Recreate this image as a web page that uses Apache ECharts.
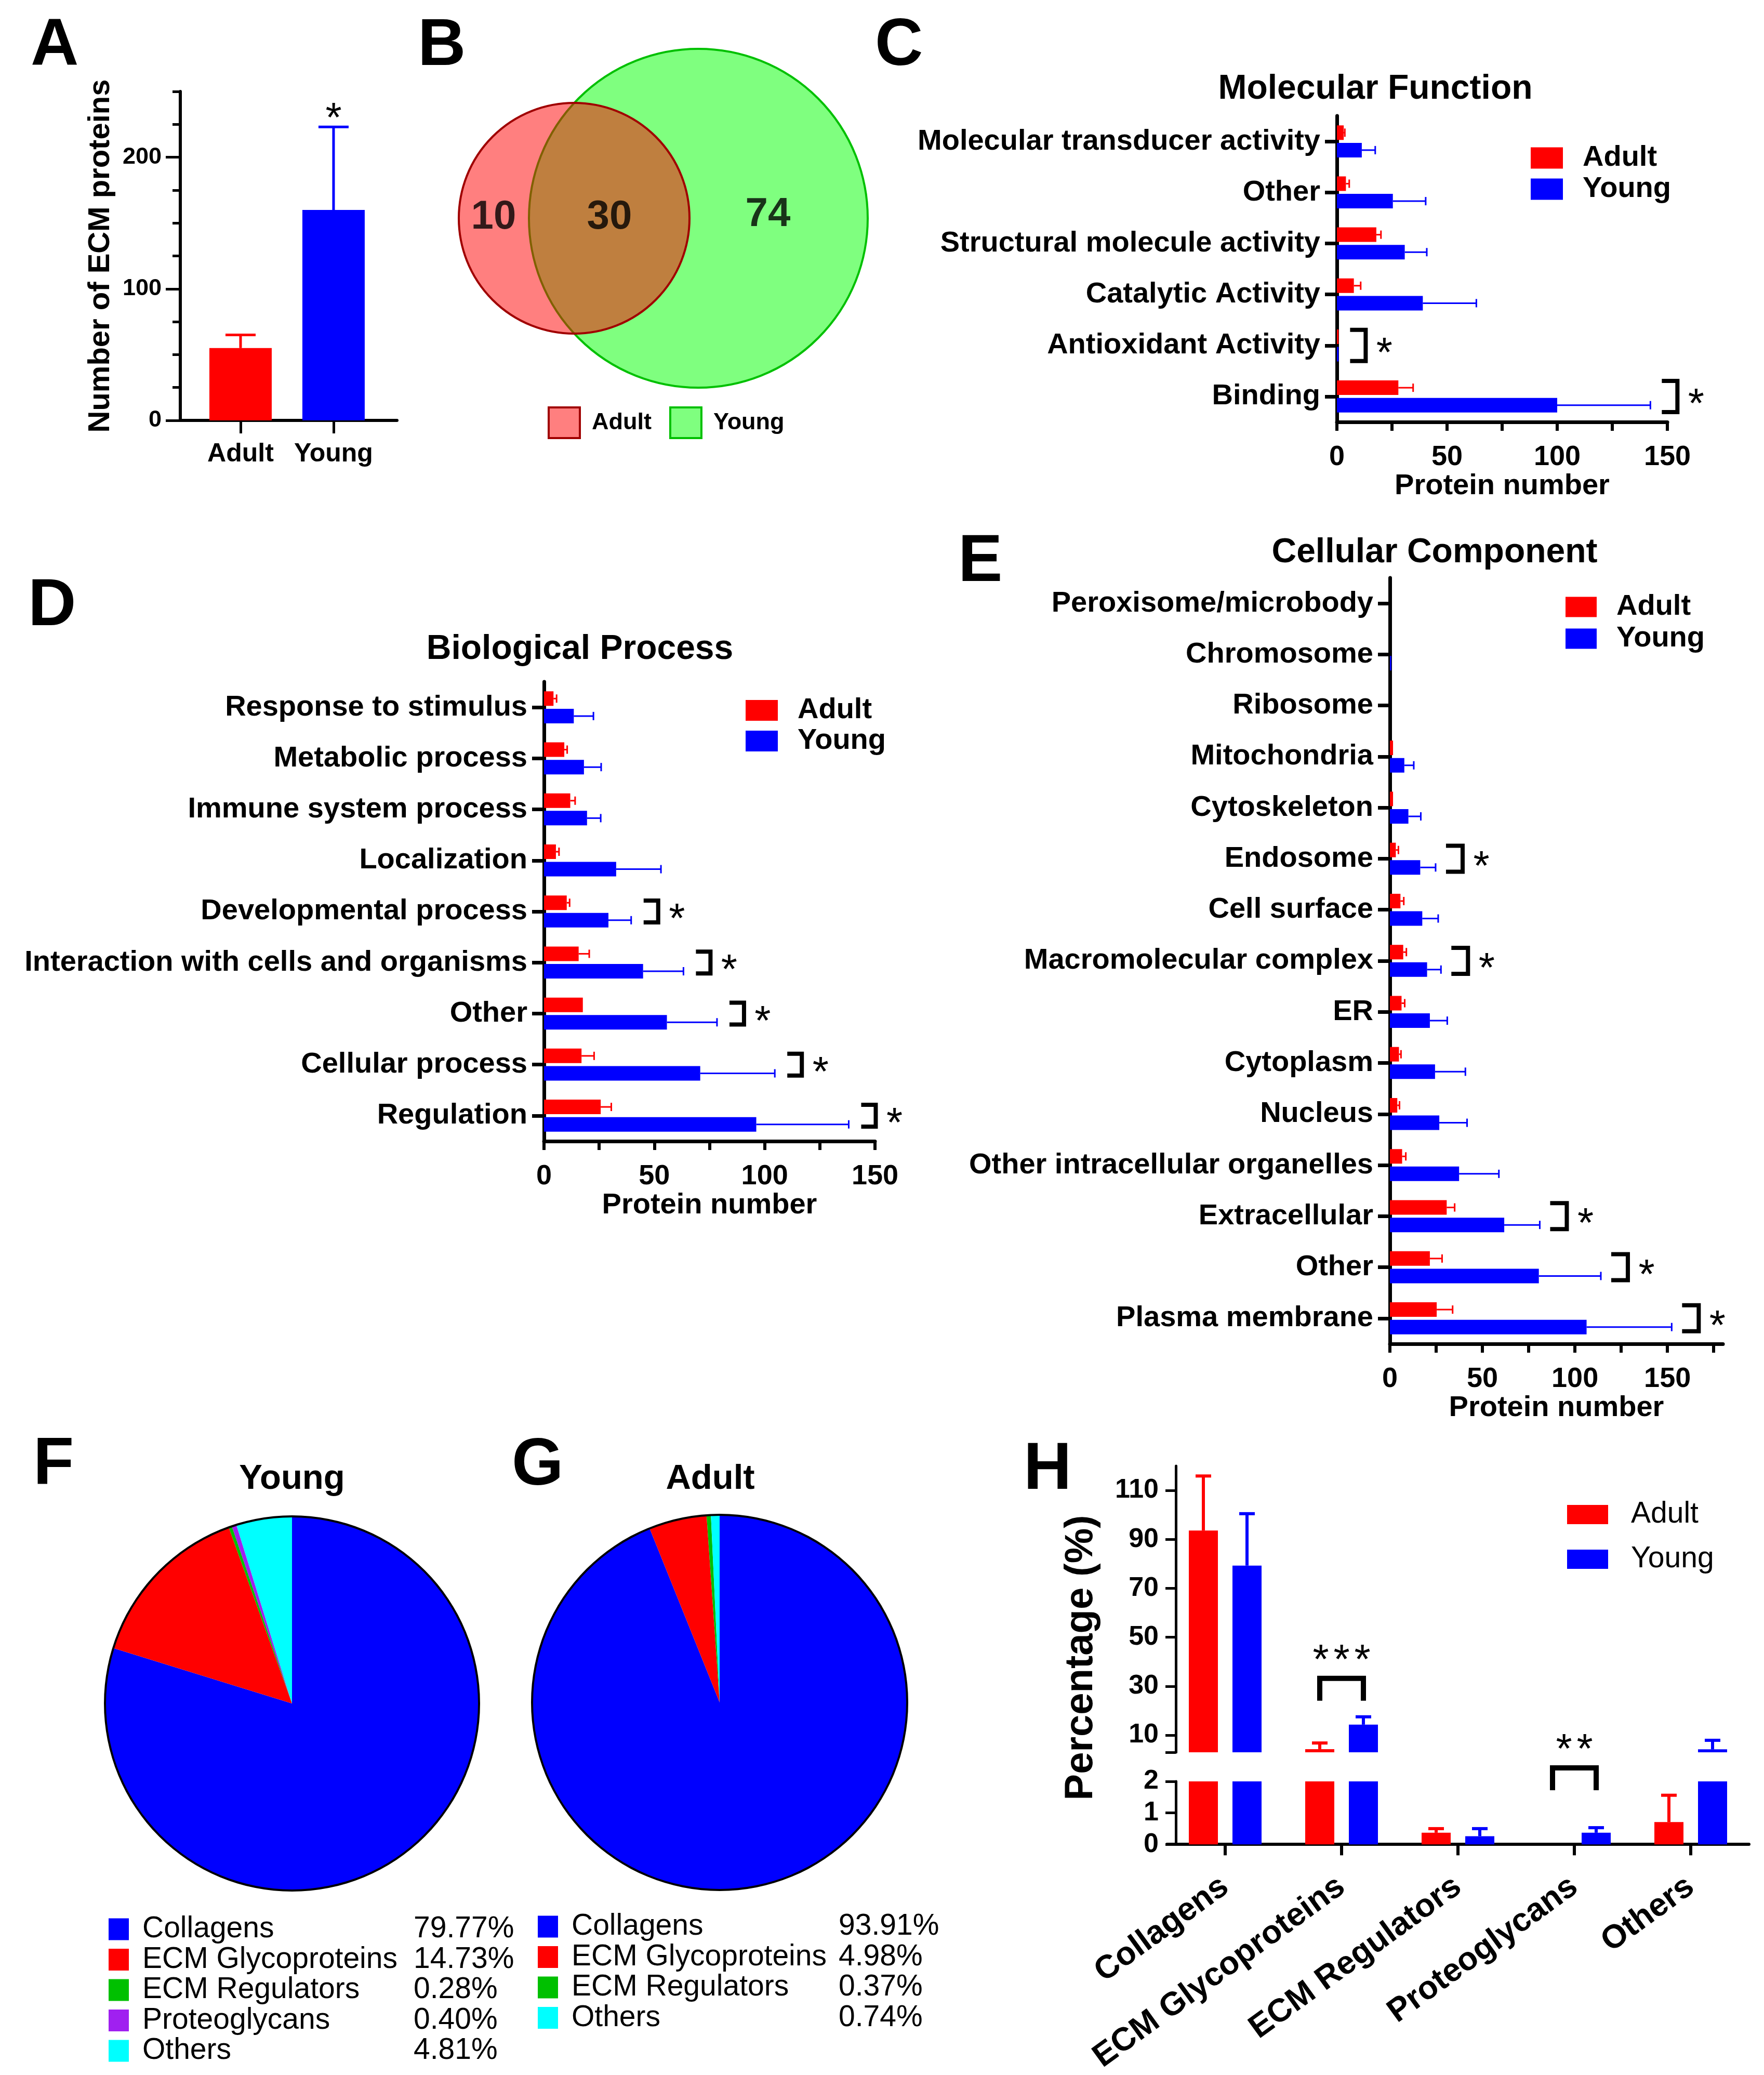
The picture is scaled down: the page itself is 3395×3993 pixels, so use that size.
<!DOCTYPE html>
<html>
<head>
<meta charset="utf-8">
<script src="https://cdn.jsdelivr.net/npm/echarts@6/dist/echarts.min.js"></script>
<style>html,body{margin:0;padding:0;background:#fff;overflow:hidden}#c{width:3395px;height:3993px}</style>
</head>
<body>
<div id="c"></div>
<script>
// ---------------- DATA ----------------
const groups = ['Adult', 'Young'];

// A: number of ECM proteins
const ecmTotal = [55, 160];
const ecmTotalSD = [10, 63];
const ecmTotalSig = ['', '*'];

// B: Venn counts (Adult only, shared, Young only)
const vennCounts = [10, 30, 74];

// C: Molecular Function
const mfCats = ['Molecular transducer activity', 'Other', 'Structural molecule activity', 'Catalytic Activity', 'Antioxidant Activity', 'Binding'];
const mfAdult = [3.1, 4.1, 17.9, 7.7, 0.8, 27.9];
const mfAdultSD = [0.5, 1.5, 2.1, 3.1, 0, 6.7];
const mfYoung = [11.3, 25.4, 30.8, 39, 0.8, 100];
const mfYoungSD = [6.1, 14.9, 10, 24.3, 0, 42.3];
const mfSig = ['', '', '', '', '*', '*'];

// D: Biological Process
const bpCats = ['Response to stimulus', 'Metabolic process', 'Immune system process', 'Localization', 'Developmental process', 'Interaction with cells and organisms', 'Other', 'Cellular process', 'Regulation'];
const bpAdult = [4.3, 9.2, 11.9, 5.4, 10.3, 15.7, 17.6, 17, 25.7];
const bpAdultSD = [1.4, 1.3, 2.2, 1.4, 1.3, 4.8, 0, 5.7, 4.8];
const bpYoung = [13.5, 18.1, 19.5, 32.7, 29.2, 44.9, 55.7, 70.8, 96.2];
const bpYoungSD = [8.9, 7.8, 6.2, 20.3, 10.3, 18.3, 22.7, 33.8, 41.9];
const bpSig = ['', '', '', '', '*', '*', '*', '*', '*'];

// E: Cellular Component
const ccCats = ['Peroxisome/microbody', 'Chromosome', 'Ribosome', 'Mitochondria', 'Cytoskeleton', 'Endosome', 'Cell surface', 'Macromolecular complex', 'ER', 'Cytoplasm', 'Nucleus', 'Other intracellular organelles', 'Extracellular', 'Other', 'Plasma membrane'];
const ccAdult = [0, 0, 0, 1.7, 1.7, 3.2, 5.7, 7.2, 6.3, 4.9, 4, 6.6, 30.7, 21.6, 25.3];
const ccAdultSD = [0, 0, 0, 0, 0, 1.4, 1.8, 1.7, 1.7, 1.1, 1.2, 2, 4.3, 6.6, 8.6];
const ccYoung = [0, 0.8, 0, 7.8, 10, 16.4, 17.5, 20.1, 21.6, 24.4, 26.7, 37.4, 61.8, 80.5, 106.3];
const ccYoungSD = [0, 0, 0, 5.1, 6.7, 8.3, 8.6, 7.5, 9.4, 16.4, 15, 21.5, 19.2, 33.5, 46];
const ccSig = ['', '', '', '', '', '*', '', '*', '', '', '', '', '*', '*', '*'];

// F / G: ECM class composition (%)
const ecmClasses = ['Collagens', 'ECM Glycoproteins', 'ECM Regulators', 'Proteoglycans', 'Others'];
const youngPct = [79.77, 14.73, 0.28, 0.40, 4.81];
const adultClasses = ['Collagens', 'ECM Glycoproteins', 'ECM Regulators', 'Others'];
const adultPct = [93.91, 4.98, 0.37, 0.74];

// H: percentage by class (mean, SD)
const pctAdult = [93.6, 4.3, 0.37, 0, 0.71];
const pctAdultSD = [22.3, 2.5, 0.13, 0, 0.85];
const pctYoung = [79.3, 14.3, 0.26, 0.37, 4.2];
const pctYoungSD = [21.2, 3.2, 0.24, 0.16, 3.7];
const pctSig = ['', '***', '', '**', ''];

// tick label values
const ticksA = [0, 100, 200];
const ticks150 = [0, 25, 50, 75, 100, 125, 150];
const ticks175 = [0, 25, 50, 75, 100, 125, 150, 175];
const labels150 = [0, 50, 100, 150];
const ticksHUpper = [10, 30, 50, 70, 90, 110];
const ticksHLower = [0, 1, 2];

// ---------------- STYLE ----------------
const FONT = '"Liberation Sans", Arial, Helvetica, sans-serif';
const RED = '#ff0000', BLUE = '#0000ff', BLACK = '#000000';
const pieColors = {'Collagens': '#0000ff', 'ECM Glycoproteins': '#ff0000', 'ECM Regulators': '#00c000', 'Proteoglycans': '#a020f0', 'Others': '#00ffff'};
const T = (size, weight) => ({fontFamily: FONT, fontSize: size, fontWeight: weight || 'bold', color: BLACK});
const STAR_FONT = 'normal 80px ' + FONT;
const STAR_DY = 18;

function starTexts(n, cx, cy, pitch) {
  const out = [];
  for (let k = 0; k < n; k++) {
    out.push({type: 'text', x: cx + (k - (n - 1) / 2) * pitch, y: cy + STAR_DY,
      style: {text: '*', font: STAR_FONT, fill: BLACK, align: 'center', verticalAlign: 'middle'}});
  }
  return out;
}

// horizontal bar helpers (C, D, E)
const HBW = 28, HOFF = 16.8;
function catYAxis(grid, cats) {
  return {gridIndex: grid, type: 'category', data: cats, inverse: true,
    axisLine: {show: true, onZero: false, lineStyle: {color: BLACK, width: 7}},
    axisTick: {show: true, alignWithLabel: true, length: 23, lineStyle: {color: BLACK, width: 7}},
    axisLabel: Object.assign({margin: 32, interval: 0}, T(56)),
    splitLine: {show: false}};
}
function protXAxis(grid, max, ticks) {
  return {gridIndex: grid, type: 'value', min: 0, max: max,
    axisLine: {show: true, onZero: false, lineStyle: {color: BLACK, width: 7}},
    axisTick: {show: true, customValues: ticks, length: 17, lineStyle: {color: BLACK, width: 6}},
    axisLabel: Object.assign({customValues: labels150, margin: 41}, T(54)),
    splitLine: {show: false},
    name: 'Protein number', nameLocation: 'middle', nameGap: 90, nameTextStyle: T(56)};
}
function hBars(ai, adult, young) {
  return [
    {type: 'bar', name: 'Adult', xAxisIndex: ai, yAxisIndex: ai, data: adult, barWidth: HBW, barGap: '20%', itemStyle: {color: RED}, silent: true},
    {type: 'bar', name: 'Young', xAxisIndex: ai, yAxisIndex: ai, data: young, barWidth: HBW, barGap: '20%', itemStyle: {color: BLUE}, silent: true}
  ];
}
function hErr(ai, vals, sds, color, off) {
  return {type: 'custom', xAxisIndex: ai, yAxisIndex: ai, silent: true, z: 5,
    data: vals.map((v, i) => [i, v, v + sds[i]]),
    encode: {y: 0, x: [1, 2]},
    renderItem: function (params, api) {
      const cat = api.value(0), v = api.value(1), e = api.value(2);
      if (!(e > v)) return null;
      const p0 = api.coord([v, cat]), p1 = api.coord([e, cat]);
      const y = p0[1] + off;
      return {type: 'group', children: [
        {type: 'line', shape: {x1: p0[0], y1: y, x2: p1[0], y2: y}, style: {stroke: color, lineWidth: 3}},
        {type: 'line', shape: {x1: p1[0], y1: y - 8, x2: p1[0], y2: y + 8}, style: {stroke: color, lineWidth: 3}}
      ]};
    }};
}
function hSig(ai, young, sds, sig, halfH, arm) {
  const data = [];
  sig.forEach((s, i) => { if (s) data.push([i, young[i] + sds[i], s.length]); });
  return {type: 'custom', xAxisIndex: ai, yAxisIndex: ai, silent: true, z: 5,
    data: data, encode: {y: 0, x: 1},
    renderItem: function (params, api) {
      const p = api.coord([api.value(1), api.value(0)]);
      const x = p[0] + 52, y = p[1];
      return {type: 'group', children: [
        {type: 'polyline', shape: {points: [[x - arm, y - halfH], [x, y - halfH], [x, y + halfH], [x - arm, y + halfH]]},
          style: {stroke: BLACK, lineWidth: 8, fill: null, lineJoin: 'miter'}}
      ].concat(starTexts(api.value(2), x + 36, y, 40))};
    }};
}

// vertical error bars in H (clamped to grid)
const VBW = 56, VOFF = 42;
function vErr(xi, yi, vals, sds, color, off, keep) {
  const data = [];
  vals.forEach((v, i) => { if (sds[i] > 0 && keep(v + sds[i])) data.push([i, v, v + sds[i]]); });
  return {type: 'custom', xAxisIndex: xi, yAxisIndex: yi, silent: true, z: 5,
    data: data, encode: {x: 0, y: [1, 2]},
    renderItem: function (params, api) {
      const cs = params.coordSys;
      const cat = api.value(0);
      const p0 = api.coord([cat, api.value(1)]), p1 = api.coord([cat, api.value(2)]);
      const x = p0[0] + off;
      const y0 = Math.min(p0[1], cs.y + cs.height);
      return {type: 'group', children: [
        {type: 'line', shape: {x1: x, y1: y0, x2: x, y2: p1[1]}, style: {stroke: color, lineWidth: 6}},
        {type: 'line', shape: {x1: x - 15, y1: p1[1], x2: x + 15, y2: p1[1]}, style: {stroke: color, lineWidth: 6}}
      ]};
    }};
}
const hBracketLift = {1: 74, 3: 115};
function vSig(xi, yi, which) {
  const data = [];
  pctSig.forEach((s, i) => { if (s && which(i)) data.push([i, pctYoung[i] + pctYoungSD[i], s.length]); });
  return {type: 'custom', xAxisIndex: xi, yAxisIndex: yi, silent: true, z: 5,
    data: data, encode: {x: 0, y: 1},
    renderItem: function (params, api) {
      const cat = api.value(0);
      const p = api.coord([cat, api.value(1)]);
      const cx = p[0], top = p[1] - hBracketLift[cat];
      return {type: 'group', children: [
        {type: 'polyline', shape: {points: [[cx - VOFF, top + 43], [cx - VOFF, top], [cx + VOFF, top], [cx + VOFF, top + 43]]},
          style: {stroke: BLACK, lineWidth: 10, fill: null, lineJoin: 'miter'}}
      ].concat(starTexts(api.value(2), cx, top - 50, 40))};
    }};
}

function barLegend(left, top, iw, ih, gap, textGap, size, weight) {
  return {orient: 'vertical', left: left, top: top, padding: 0, itemWidth: iw, itemHeight: ih, itemGap: gap,
    icon: 'rect', selectedMode: false, data: groups,
    formatter: n => '{g| }{t|' + n + '}',
    textStyle: {rich: {g: {width: textGap}, t: {fontFamily: FONT, fontSize: size, fontWeight: weight, color: BLACK}}}};
}
function pieLegend(left, top, names, pcts, nameW) {
  return {orient: 'vertical', left: left, top: top, padding: 0, itemWidth: 39, itemHeight: 42, itemGap: 1.5,
    icon: 'rect', selectedMode: false, data: names,
    formatter: n => '{g| }{n|' + n + '}{p|' + pcts[names.indexOf(n)].toFixed(2) + '%}',
    textStyle: {rich: {
      g: {width: 21},
      n: {width: nameW, fontFamily: FONT, fontSize: 57, fontWeight: 'normal', color: BLACK},
      p: {fontFamily: FONT, fontSize: 57, fontWeight: 'normal', color: BLACK}}}};
}

function label(text, x, y, size, align) {
  return {type: 'text', x: x, y: y, style: {text: text, font: 'bold ' + size + 'px ' + FONT, fill: BLACK, align: align || 'left', verticalAlign: 'middle'}};
}

const option = {
  animation: false,
  backgroundColor: '#ffffff',
  textStyle: {fontFamily: FONT},
  grid: [
    {left: 347, top: 176, width: 417, height: 633},   // 0 A
    {left: 2573, top: 223, width: 636, height: 589},  // 1 C
    {left: 1047, top: 1312, width: 637, height: 884}, // 2 D
    {left: 2675, top: 1112, width: 641, height: 1474},// 3 E
    {left: 2246, top: 2821, width: 1120, height: 551},// 4 H upper
    {left: 2246, top: 3428, width: 1120, height: 136},// 5 H lower
    {left: 880, top: 90, width: 800, height: 660}     // 6 Venn
  ],
  xAxis: [
    {gridIndex: 0, type: 'value', min: -0.648, max: 1.682,
      axisLine: {show: true, onZero: false, lineStyle: {color: BLACK, width: 6}},
      axisTick: {show: true, customValues: [0, 1], length: 25, lineStyle: {color: BLACK, width: 5}},
      axisLabel: Object.assign({customValues: [0, 1], margin: 40, formatter: v => groups[Math.round(v)]}, T(50)),
      splitLine: {show: false}},
    protXAxis(1, 150, ticks150),
    protXAxis(2, 150, ticks150),
    protXAxis(3, 180, ticks175),
    {gridIndex: 4, type: 'category', data: ecmClasses, show: false},
    {gridIndex: 5, type: 'category', data: ecmClasses,
      axisLine: {show: true, onZero: false, lineStyle: {color: BLACK, width: 6}},
      axisTick: {show: true, alignWithLabel: true, length: 21, lineStyle: {color: BLACK, width: 6}},
      axisLabel: Object.assign({interval: 0, rotate: 36, margin: 75}, T(63)),
      splitLine: {show: false}},
    {gridIndex: 6, type: 'value', min: 0, max: 800, show: false}
  ],
  yAxis: [
    {gridIndex: 0, type: 'value', min: 0, max: 250, interval: 25, position: 'left',
      axisLine: {show: true, onZero: false, lineStyle: {color: BLACK, width: 6}},
      axisTick: {show: true, length: 15, lineStyle: {color: BLACK, width: 5}},
      axisLabel: Object.assign({margin: 36, formatter: v => (ticksA.indexOf(v) >= 0 ? String(v) : '')}, T(45)),
      splitLine: {show: false},
      name: 'Number of ECM proteins', nameLocation: 'middle', nameGap: 124, nameRotate: 90, nameTextStyle: T(58)},
    catYAxis(1, mfCats),
    catYAxis(2, bpCats),
    catYAxis(3, ccCats),
    {gridIndex: 4, type: 'value', min: 3, max: 120, offset: -17, position: 'left',
      axisLine: {show: true, onZero: false, lineStyle: {color: BLACK, width: 5}},
      axisTick: {show: true, customValues: [3].concat(ticksHUpper), length: 20, lineStyle: {color: BLACK, width: 5}},
      axisLabel: Object.assign({customValues: ticksHUpper, margin: 33}, T(52)),
      splitLine: {show: false}},
    {gridIndex: 5, type: 'value', min: 0, max: 2, offset: -17, position: 'left',
      axisLine: {show: true, onZero: false, lineStyle: {color: BLACK, width: 5}},
      axisTick: {show: true, customValues: ticksHLower, length: 20, lineStyle: {color: BLACK, width: 5}},
      axisLabel: Object.assign({customValues: ticksHLower, margin: 33}, T(52)),
      splitLine: {show: false}},
    {gridIndex: 6, type: 'value', min: 0, max: 660, inverse: true, show: false},
    {gridIndex: 0, type: 'value', min: 0, max: 250, position: 'left',
      axisLine: {show: false, onZero: false},
      axisTick: {show: true, customValues: ticksA, length: 28, lineStyle: {color: BLACK, width: 5}},
      axisLabel: {show: false}, splitLine: {show: false}}
  ],
  legend: [
    {orient: 'horizontal', left: 1054, top: 782, padding: 0, itemWidth: 60, itemHeight: 59, itemGap: 34, icon: 'rect', selectedMode: false,
      data: ['vAdult', 'vYoung'], itemStyle: {borderWidth: 4},
      formatter: n => '{g| }{t|' + n.slice(1) + '}',
      textStyle: {rich: {g: {width: 18}, t: {fontFamily: FONT, fontSize: 45, fontWeight: 'bold', color: BLACK}}}},
    barLegend(2946, 276, 62, 41, 4, 33, 56, 'bold'),
    barLegend(1435, 1339, 62, 40, 3, 33, 56, 'bold'),
    barLegend(3013, 1140, 60, 39, 5, 33, 56, 'bold'),
    barLegend(3016, 2886, 79, 37, 29, 39, 57, 'normal'),
    pieLegend(209, 3684, ecmClasses, youngPct, 522),
    pieLegend(1035, 3679, adultClasses, adultPct, 514)
  ],
  graphic: [
    label('A', 59, 90, 128), label('B', 804, 90, 128), label('C', 1684, 90, 128),
    label('D', 54, 1168, 128), label('E', 1844, 1083, 128), label('F', 64, 2820, 128),
    label('G', 985, 2822, 128), label('H', 1970, 2830, 128),
    label('Molecular Function', 2647, 172, 66, 'center'),
    label('Biological Process', 1116, 1250, 66, 'center'),
    label('Cellular Component', 2761, 1064, 66, 'center'),
    label('Young', 562, 2847, 67, 'center'),
    label('Adult', 1367, 2847, 67, 'center'),
    {type: 'text', x: 2081, y: 3190, rotation: Math.PI / 2,
      style: {text: 'Percentage (%)', font: 'bold 76px ' + FONT, fill: BLACK, align: 'center', verticalAlign: 'middle'}}
  ],
  series: [
    // A
    {type: 'bar', xAxisIndex: 0, yAxisIndex: 0, barWidth: 120, silent: true,
      data: ecmTotal.map((v, i) => ({value: [i, v], itemStyle: {color: i === 0 ? RED : BLUE}}))},
    {type: 'custom', xAxisIndex: 0, yAxisIndex: 0, silent: true, z: 5,
      data: ecmTotal.map((v, i) => [i, v, v + ecmTotalSD[i], ecmTotalSig[i].length]),
      encode: {x: 0, y: [1, 2]},
      renderItem: function (params, api) {
        const i = api.value(0);
        const p0 = api.coord([i, api.value(1)]), p1 = api.coord([i, api.value(2)]);
        const color = i === 0 ? RED : BLUE;
        const ch = [
          {type: 'line', shape: {x1: p0[0], y1: p0[1], x2: p0[0], y2: p1[1]}, style: {stroke: color, lineWidth: 5}},
          {type: 'line', shape: {x1: p0[0] - 29, y1: p1[1], x2: p0[0] + 29, y2: p1[1]}, style: {stroke: color, lineWidth: 5}}
        ];
        return {type: 'group', children: ch.concat(starTexts(api.value(3), p0[0], p1[1] - 31, 40))};
      }},
    // B Venn
    {type: 'scatter', name: 'vYoung', xAxisIndex: 6, yAxisIndex: 6, silent: true, symbol: 'circle', symbolSize: 652,
      data: [[464, 330]], itemStyle: {color: 'rgba(0,255,0,0.5)', borderColor: '#00c000', borderWidth: 4, opacity: 1}},
    {type: 'scatter', name: 'vAdult', xAxisIndex: 6, yAxisIndex: 6, silent: true, symbol: 'circle', symbolSize: 444,
      data: [[225, 330]], itemStyle: {color: 'rgba(255,0,0,0.5)', borderColor: '#a00000', borderWidth: 4, opacity: 1}},
    {type: 'scatter', xAxisIndex: 6, yAxisIndex: 6, silent: true, symbolSize: 1, itemStyle: {color: 'rgba(0,0,0,0)'}, z: 10,
      data: [[70, 328, vennCounts[0]], [293, 328, vennCounts[1]], [598, 323, vennCounts[2]]],
      label: Object.assign({show: true, position: 'inside', formatter: p => String(p.value[2])}, T(78))},
    // C
    ...hBars(1, mfAdult, mfYoung),
    hErr(1, mfAdult, mfAdultSD, RED, -HOFF), hErr(1, mfYoung, mfYoungSD, BLUE, HOFF),
    hSig(1, mfYoung, mfYoungSD, mfSig, 30, 30),
    // D
    ...hBars(2, bpAdult, bpYoung),
    hErr(2, bpAdult, bpAdultSD, RED, -HOFF), hErr(2, bpYoung, bpYoungSD, BLUE, HOFF),
    hSig(2, bpYoung, bpYoungSD, bpSig, 21, 28),
    // E
    ...hBars(3, ccAdult, ccYoung),
    hErr(3, ccAdult, ccAdultSD, RED, -HOFF), hErr(3, ccYoung, ccYoungSD, BLUE, HOFF),
    hSig(3, ccYoung, ccYoungSD, ccSig, 25, 32),
    // F / G pies
    {type: 'pie', center: [562, 3278], radius: 360, startAngle: 90, clockwise: true, silent: true,
      label: {show: false}, labelLine: {show: false}, emphasis: {disabled: true},
      data: ecmClasses.map((n, i) => ({name: n, value: youngPct[i], itemStyle: {color: pieColors[n]}}))},
    {type: 'pie', center: [562, 3278], radius: [358, 362], silent: true, label: {show: false}, labelLine: {show: false},
      data: [{name: 'outlineF', value: 1, itemStyle: {color: BLACK}}]},
    {type: 'pie', center: [1385, 3276], radius: 361, startAngle: 90, clockwise: true, silent: true,
      label: {show: false}, labelLine: {show: false}, emphasis: {disabled: true},
      data: adultClasses.map((n, i) => ({name: n, value: adultPct[i], itemStyle: {color: pieColors[n]}}))},
    {type: 'pie', center: [1385, 3276], radius: [359, 363], silent: true, label: {show: false}, labelLine: {show: false},
      data: [{name: 'outlineG', value: 1, itemStyle: {color: BLACK}}]},
    // H upper
    {type: 'bar', name: 'Adult', xAxisIndex: 4, yAxisIndex: 4, data: pctAdult, barWidth: VBW, barGap: '50%', itemStyle: {color: RED}, silent: true, clip: true},
    {type: 'bar', name: 'Young', xAxisIndex: 4, yAxisIndex: 4, data: pctYoung, barWidth: VBW, barGap: '50%', itemStyle: {color: BLUE}, silent: true, clip: true},
    // H lower
    {type: 'bar', name: 'Adult', xAxisIndex: 5, yAxisIndex: 5, data: pctAdult, barWidth: VBW, barGap: '50%', itemStyle: {color: RED}, silent: true, clip: true},
    {type: 'bar', name: 'Young', xAxisIndex: 5, yAxisIndex: 5, data: pctYoung, barWidth: VBW, barGap: '50%', itemStyle: {color: BLUE}, silent: true, clip: true},
    vErr(4, 4, pctAdult, pctAdultSD, RED, -VOFF, e => e > 3),
    vErr(4, 4, pctYoung, pctYoungSD, BLUE, VOFF, e => e > 3),
    vErr(5, 5, pctAdult, pctAdultSD, RED, -VOFF, e => e <= 2),
    vErr(5, 5, pctYoung, pctYoungSD, BLUE, VOFF, e => e <= 2),
    vSig(4, 4, i => pctYoung[i] + pctYoungSD[i] > 3),
    vSig(5, 5, i => pctYoung[i] + pctYoungSD[i] <= 2)
  ]
};

const chart = echarts.init(document.getElementById('c'));
chart.setOption(option);
</script>
</body>
</html>
